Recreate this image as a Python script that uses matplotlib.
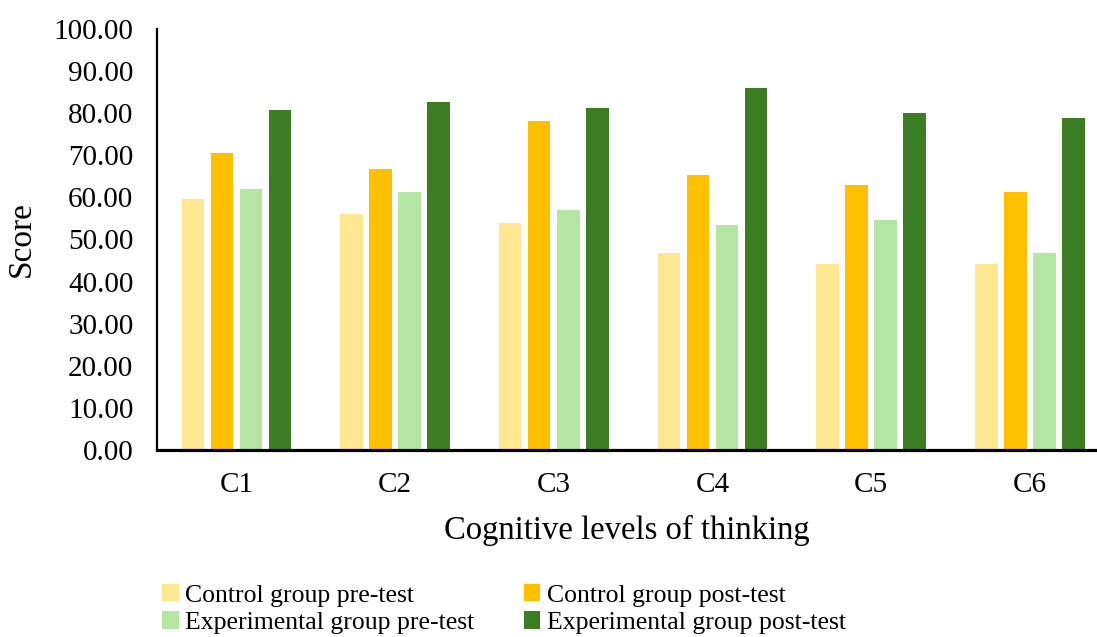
import numpy as np
import matplotlib
matplotlib.use("Agg")
import matplotlib.pyplot as plt

plt.rcParams['font.family'] = ['Liberation Serif', 'DejaVu Serif']

# Mean scores per cognitive level
levels = ["C1", "C2", "C3", "C4", "C5", "C6"]
control_pre = [59.6, 56.1, 53.8, 46.7, 44.1, 44.1]
control_post = [70.6, 66.7, 78.1, 65.2, 62.9, 61.3]
exp_pre = [61.9, 61.2, 57.0, 53.4, 54.6, 46.7]
exp_post = [80.8, 82.7, 81.2, 85.9, 80.0, 78.9]

series = [
    ("Control group pre-test", control_pre, "#FFE891"),
    ("Control group post-test", control_post, "#FFC000"),
    ("Experimental group pre-test", exp_pre, "#B4E5A2"),
    ("Experimental group post-test", exp_post, "#3C7D24"),
]

fig = plt.figure(figsize=(10.97, 6.37), dpi=100)
ax = fig.add_axes([0.1431, 0.2936, 0.8569, 0.6609])

x = np.arange(len(levels))
step = 0.183
width = 0.142
bars = []
for i, (name, vals, col) in enumerate(series):
    bars.append(ax.bar(x + (i - 1.5) * step, vals, width, color=col, label=name))

ax.set_xlim(-0.5, 5.423)
ax.set_ylim(0, 100)
ax.set_yticks(np.arange(0, 101, 10))
ax.set_yticklabels([f"{v:.2f}" for v in np.arange(0, 101, 10)])
ax.set_xticks(x)
ax.set_xticklabels(levels)
ax.tick_params(axis='y', length=0, pad=17, labelsize=21)
ax.tick_params(axis='x', length=0, pad=16, labelsize=21)

for s in ['top', 'right']:
    ax.spines[s].set_visible(False)
ax.spines['left'].set_linewidth(1.6)
ax.spines['bottom'].set_linewidth(2.3)

ax.set_ylabel("Score", fontsize=24, labelpad=12)
ax.set_xlabel("Cognitive levels of thinking", fontsize=23.5, labelpad=12)

# legend filled column-wise: pre-tests in first column, post-tests in second
order = [0, 2, 1, 3]
fig.legend([bars[i] for i in order], [series[i][0] for i in order],
           loc='upper left', bbox_to_anchor=(0.148, 0.083),
           ncol=2, frameon=False, fontsize=18.5, handlelength=0.65,
           handleheight=0.65, handletextpad=0.25, columnspacing=1.9,
           labelspacing=0.18, borderaxespad=0, borderpad=0)

fig.savefig("out.png", dpi=100)
